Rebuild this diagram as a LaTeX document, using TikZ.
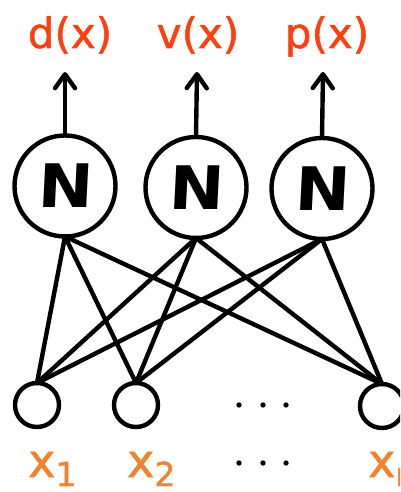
\documentclass[tikz,border=0pt]{standalone}
\usepackage{fontspec}
\setmainfont{DejaVu Sans}
\newfontfamily\nfont[FakeSlant=0.05,FakeStretch=1.1]{DejaVu Sans Bold}
\newfontfamily\lblfont[FakeBold=1.2]{DejaVu Sans}
\usetikzlibrary{arrows.meta}
\definecolor{outred}{HTML}{FF3F0F}
\definecolor{inorange}{HTML}{F0832F}
\begin{document}
\begin{tikzpicture}[x=1pt,y=-1pt,line width=4.4pt,
  neuron/.style={circle,draw,minimum size=101pt,inner sep=0pt,outer sep=0pt,font=\nfont\fontsize{60}{60}\selectfont},
  inp/.style={circle,draw,minimum size=44pt,inner sep=0pt,outer sep=0pt},
  outlbl/.style={anchor=base,inner sep=0pt,text=outred,font=\lblfont\fontsize{42}{42}\selectfont},
  inlbl/.style={anchor=base west,inner sep=0pt,text=inorange,font=\lblfont\fontsize{46}{46}\selectfont},
  conn/.style={line cap=round},
  outarrow/.style={-{Straight Barb[length=14pt,width=20pt,round]}}]
\path[use as bounding box,clip] (0,0) rectangle (400,492);
% neurons
\node[neuron] (n1) at (65,186) {N};
\node[neuron] (n2) at (196,187.5) {N};
\node[neuron] (n3) at (322,188.5) {N};
% inputs
\node[inp] (x1) at (37,405) {};
\node[inp] (x2) at (136,405) {};
\node[inp] (xn) at (382,406) {};
% output labels
\node[outlbl] (ld) at (70,48) {d(x)};
\node[outlbl] (lv) at (198,48) {v(x)};
\node[outlbl] (lp) at (327,48) {p(x)};
% arrows
\coordinate (t1) at (65,72);
\coordinate (t2) at (197,72);
\coordinate (t3) at (323,72);
\draw[outarrow] (n1.north) -- (t1);
\draw[outarrow] (n2.north) -- (t2);
\draw[outarrow] (n3.north) -- (t3);
% connections
\foreach \t in {n1,n2,n3}
  \foreach \b in {x1,x2,xn}
    \draw[conn] (\t.south) -- (\b.north);
% input labels
\node[inlbl] (l1) at (26,477) {x\raisebox{-9pt}{\fontsize{33}{33}\selectfont 1}};
\node[inlbl] (l2) at (125,477) {x\raisebox{-9pt}{\fontsize{33}{33}\selectfont 2}};
\node[inlbl] (ln) at (366,477) {x\raisebox{-9pt}{\fontsize{33}{33}\selectfont n}};
% ellipses
\foreach \xx in {239,263,286} {
  \fill (\xx,405) circle (2.7);
  \fill (\xx,463) circle (2.7);
}
\end{tikzpicture}
\end{document}
